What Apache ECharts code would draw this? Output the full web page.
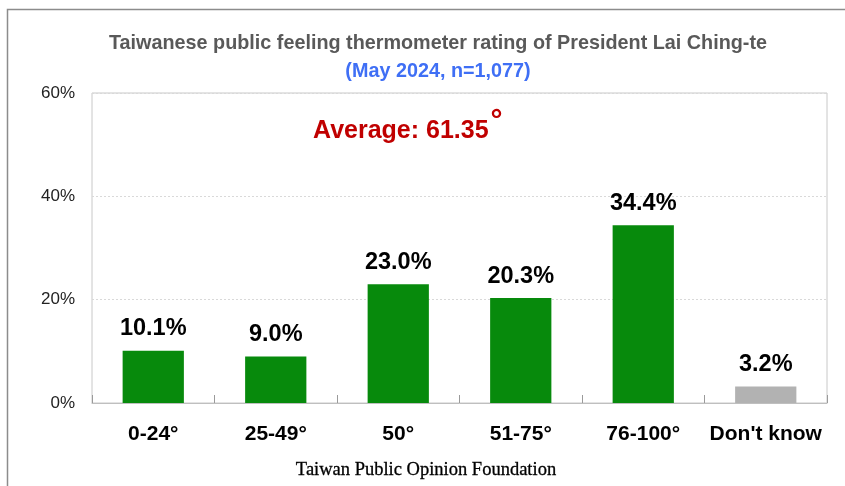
<!DOCTYPE html>
<html>
<head>
<meta charset="utf-8">
<script src="https://cdn.jsdelivr.net/npm/echarts@6/dist/echarts.min.js"></script>
<style>
  html, body { margin: 0; padding: 0; background: #fff; }
  #chart { width: 845px; height: 486px; }
</style>
</head>
<body>
<div id="chart"></div>
<script>
// data
var categories = ['0-24°', '25-49°', '50°', '51-75°', '76-100°', "Don't know"];
var shares = [10.1, 9.0, 23.0, 20.3, 34.4, 3.2];
var barColors = ['#078A0C', '#078A0C', '#078A0C', '#078A0C', '#078A0C', '#B2B2B2'];
var yTicks = [0, 20, 40, 60];

var font = '"Liberation Sans Narrow", "Liberation Sans", Arial, sans-serif';

var chart = echarts.init(document.getElementById('chart'), null, { renderer: 'canvas' });

var option = {
    backgroundColor: '#fff',
    animation: false,
    title: [{
        text: 'Taiwanese public feeling thermometer rating of President Lai Ching-te',
        left: 433, top: 29, textAlign: 'center',
        textStyle: { fontFamily: font, fontSize: 19.8, fontWeight: 'bold', color: '#595959' }
    }, {
        text: '(May 2024, n=1,077)',
        left: 433, top: 57, textAlign: 'center',
        textStyle: { fontFamily: font, fontSize: 19.8, fontWeight: 'bold', color: '#3F6FF5' }
    }, {
        text: 'Taiwan Public Opinion Foundation',
        left: 421, top: 456, textAlign: 'center',
        textStyle: { fontFamily: '"Liberation Serif", "DejaVu Serif", serif', fontSize: 18.5, fontWeight: 'normal', color: '#000',
            textBorderColor: '#000', textBorderWidth: 0.3 }
    }],
    graphic: [{
        type: 'rect',
        shape: { x: 7.5, y: 9.5, width: 860, height: 500 },
        style: { fill: 'none', stroke: '#8c8c8c', lineWidth: 1.5 },
        silent: true
    }, {
        type: 'text',
        left: 313, top: 107,
        style: {
            text: '{a|Average: 61.35}{b|°}',
            rich: {
                a: { fontFamily: font, fontSize: 25, fontWeight: 'bold', fill: '#C00000' },
                b: { fontFamily: font, fontSize: 30, fontWeight: 'bold', fill: '#C00000', verticalAlign: 'top', padding: [-12, 0, 0, 2] }
            }
        }
    }],
    grid: { left: 92, right: 18, top: 93, bottom: 83, show: true, borderColor: '#c8c8c8', borderWidth: 1 },
    xAxis: {
        type: 'category',
        data: categories,
        axisLine: { lineStyle: { color: '#bfbfbf' } },
        axisTick: { show: true, inside: true, length: 8, interval: 0, lineStyle: { color: '#9a9a9a' } },
        axisLabel: { interval: 0, fontFamily: font, fontSize: 21, fontWeight: 'bold', color: '#000', margin: 21 }
    },
    yAxis: {
        type: 'value',
        min: yTicks[0], max: yTicks[yTicks.length - 1], interval: 20,
        axisLine: { show: false },
        axisTick: { show: false },
        axisLabel: { fontFamily: font, fontSize: 17, color: '#222', margin: 17, formatter: '{value}%' },
        splitLine: { lineStyle: { color: '#d9d9d9', type: [2, 2] } }
    },
    series: [{
        type: 'bar',
        barWidth: '50%',
        data: shares.map(function (v, i) {
            return { value: v, itemStyle: { color: barColors[i] } };
        }),
        label: {
            show: true, position: 'top', distance: 10,
            fontFamily: font, fontSize: 23.5, fontWeight: 'bold', color: '#000',
            formatter: function (p) { return p.value.toFixed(1) + '%'; }
        }
    }]
};

chart.setOption(option);
</script>
</body>
</html>
